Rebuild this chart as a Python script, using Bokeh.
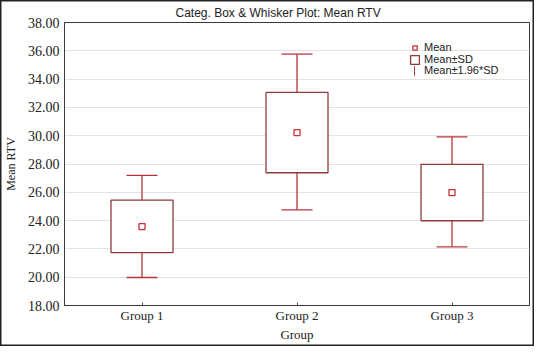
from bokeh.plotting import figure
from bokeh.models import (FactorRange, Range1d, Legend, LegendItem, FixedTicker,
                          NumeralTickFormatter, InlineStyleSheet)
from bokeh.embed import file_html
from bokeh.resources import INLINE

groups = ["Group 1", "Group 2", "Group 3"]
mean = [23.58, 30.22, 25.98]
sd_low = [21.74, 27.38, 23.99]
sd_high = [25.44, 33.06, 27.98]
ci_low = [19.98, 24.76, 22.15]
ci_high = [27.20, 35.76, 29.92]
yticks = [18, 20, 22, 24, 26, 28, 30, 32, 34, 36, 38]

BOX = "#8e3b3b"
WHISK = "#b5373a"
MEANC = "#c8303a"
SERIF = "Liberation Serif"
SANS = "Liberation Sans"

p = figure(x_range=FactorRange(*groups, range_padding=0), y_range=Range1d(18, 38),
           width=534, height=346, output_backend="svg", toolbar_location=None,
           min_border_left=63, min_border_right=5, min_border_top=22, min_border_bottom=41)
p.border_fill_color = None
p.background_fill_color = "white"
p.styles = {"box-shadow": "inset 0 0 0 1.5px #222", "background-color": "white"}
p.stylesheets = [InlineStyleSheet(css=":host { box-shadow: inset 0 0 0 1.5px #222; background-color: white; }")]

p.title.text = "Categ. Box & Whisker Plot: Mean RTV"
p.title.align = "left"
p.title.offset = 111
p.title.text_font = SANS
p.title.text_font_size = "12px"
p.title.text_font_style = "normal"
p.title.text_color = "#222"
p.title.standoff = 6

p.outline_line_color = "#3a3a3a"
p.outline_line_width = 1
p.xgrid.grid_line_color = None
p.ygrid.grid_line_color = "#e2e2e2"
p.ygrid.grid_line_width = 1.2
p.yaxis.ticker = FixedTicker(ticks=yticks)
p.yaxis.formatter = NumeralTickFormatter(format="0.00")

for ax in p.yaxis:
    ax.major_tick_out = 0
    ax.major_tick_in = 0
    ax.minor_tick_out = 0
    ax.minor_tick_in = 0
    ax.axis_line_color = "#3a3a3a"
    ax.major_label_text_font = SERIF
    ax.major_label_text_font_size = "14px"
    ax.major_label_text_color = "#222"
    ax.major_label_standoff = 5
    ax.axis_label = "Mean RTV"
    ax.axis_label_text_font = SERIF
    ax.axis_label_text_font_size = "12px"
    ax.axis_label_text_font_style = "normal"
    ax.axis_label_text_color = "#222"
    ax.axis_label_standoff = 7

for ax in p.xaxis:
    ax.major_tick_out = 0
    ax.major_tick_in = 3
    ax.axis_line_color = "#3a3a3a"
    ax.major_tick_line_color = "#555"
    ax.major_label_text_font = SERIF
    ax.major_label_text_font_size = "13px"
    ax.major_label_text_color = "#222"
    ax.major_label_standoff = 2
    ax.axis_label = "Group"
    ax.axis_label_text_font = SERIF
    ax.axis_label_text_font_size = "13px"
    ax.axis_label_text_font_style = "normal"
    ax.axis_label_text_color = "#222"
    ax.axis_label_standoff = 1

# whisker stems and caps
p.segment(x0=groups, y0=sd_high, x1=groups, y1=ci_high, line_color=WHISK, line_width=1.3)
p.segment(x0=groups, y0=ci_low, x1=groups, y1=sd_low, line_color=WHISK, line_width=1.3)
p.scatter(x=groups, y=ci_high, marker="dash", size=31, line_color=WHISK, line_width=1.3)
p.scatter(x=groups, y=ci_low, marker="dash", size=31, line_color=WHISK, line_width=1.3)
# legend helper for the whisker symbol (zero-size, hidden behind the boxes)
lg_wv = p.vbar(x=groups, width=0.001, bottom=mean, top=mean, fill_color=WHISK,
               line_color=WHISK, line_width=1)
# boxes
boxes = p.vbar(x=groups, width=0.4, bottom=sd_low, top=sd_high, fill_color="white",
               line_color=BOX, line_width=1.3)
means = p.scatter(x=groups, y=mean, marker="square", size=6, fill_color="white",
                  line_color=MEANC, line_width=1.3)

common = dict(border_line_color=None, background_fill_alpha=0, padding=0, margin=0,
              spacing=0, glyph_height=11, label_height=11, label_text_font=SANS,
              label_text_font_size="11px", label_text_color="#222")
legend_m = Legend(items=[LegendItem(label="Mean", renderers=[means], index=0)],
                  location=(345, 252), glyph_width=11, label_standoff=4, **common)
legend_s = Legend(items=[LegendItem(label="Mean±SD", renderers=[boxes], index=0)],
                  location=(345, 240), glyph_width=11, label_standoff=4, **common)
legend_c = Legend(items=[LegendItem(label="Mean±1.96*SD", renderers=[lg_wv], index=0)],
                  location=(350, 229), glyph_width=1, label_standoff=9, **common)
for lg in (legend_m, legend_s, legend_c):
    p.add_layout(lg)

open("out.html", "w").write(file_html(p, INLINE))
